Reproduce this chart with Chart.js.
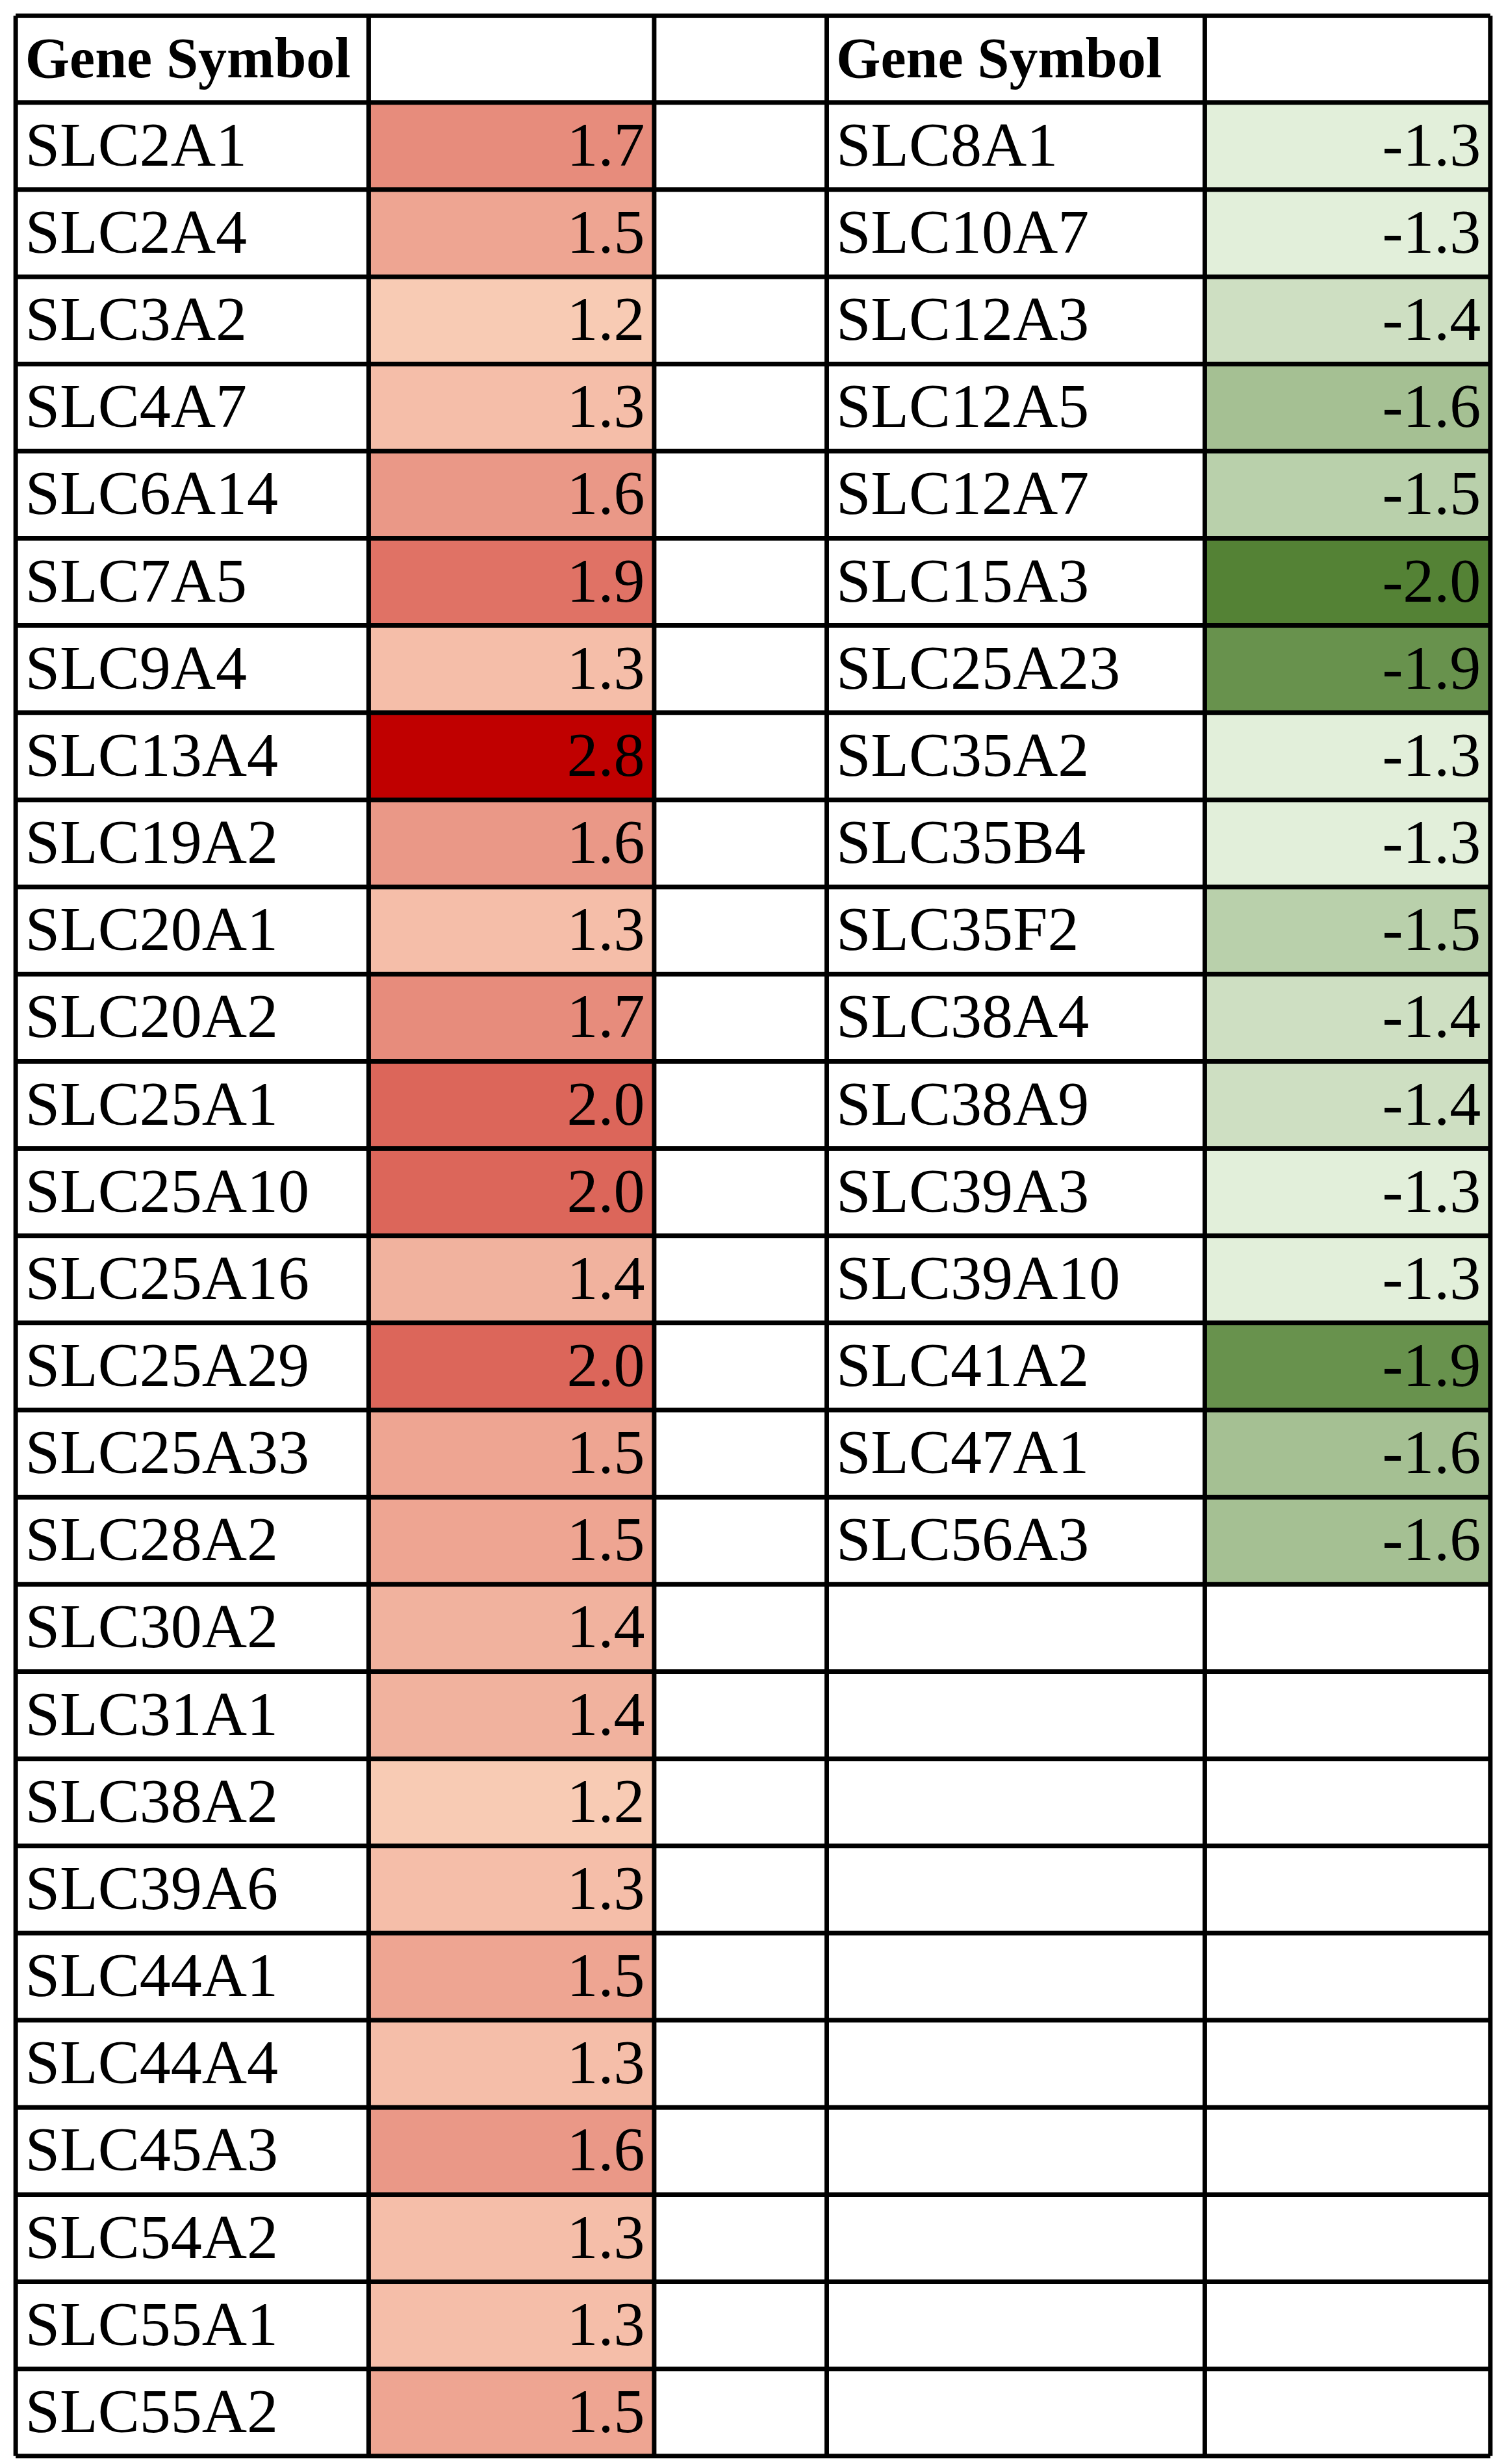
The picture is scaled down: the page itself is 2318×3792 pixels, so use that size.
<!DOCTYPE html>
<html>
<head>
<meta charset="utf-8">
<script src="https://cdn.jsdelivr.net/npm/chart.js@4"></script>
<style>
  html, body { margin: 0; padding: 0; background: #fff; }
  canvas { display: block; }
</style>
</head>
<body>
<canvas id="c" width="2318" height="3792"></canvas>
<script>
// Up-regulated transporters (left table)
const upGenes = ['SLC2A1', 'SLC2A4', 'SLC3A2', 'SLC4A7', 'SLC6A14', 'SLC7A5', 'SLC9A4', 'SLC13A4',
  'SLC19A2', 'SLC20A1', 'SLC20A2', 'SLC25A1', 'SLC25A10', 'SLC25A16', 'SLC25A29', 'SLC25A33',
  'SLC28A2', 'SLC30A2', 'SLC31A1', 'SLC38A2', 'SLC39A6', 'SLC44A1', 'SLC44A4', 'SLC45A3',
  'SLC54A2', 'SLC55A1', 'SLC55A2'];
const upValues = [1.7, 1.5, 1.2, 1.3, 1.6, 1.9, 1.3, 2.8, 1.6, 1.3, 1.7, 2.0, 2.0, 1.4, 2.0, 1.5,
  1.5, 1.4, 1.4, 1.2, 1.3, 1.5, 1.3, 1.6, 1.3, 1.3, 1.5];

// Down-regulated transporters (right table)
const downGenes = ['SLC8A1', 'SLC10A7', 'SLC12A3', 'SLC12A5', 'SLC12A7', 'SLC15A3', 'SLC25A23',
  'SLC35A2', 'SLC35B4', 'SLC35F2', 'SLC38A4', 'SLC38A9', 'SLC39A3', 'SLC39A10', 'SLC41A2',
  'SLC47A1', 'SLC56A3'];
const downValues = [-1.3, -1.3, -1.4, -1.6, -1.5, -2.0, -1.9, -1.3, -1.3, -1.5, -1.4, -1.4, -1.3,
  -1.3, -1.9, -1.6, -1.6];

const headerLabels = ['Gene Symbol', '', '', 'Gene Symbol', ''];

// layout in reference units (960 x 1563 picture)
const W = 960, H = 1563;
const colEdges = [10, 235, 417, 527, 768, 950];
const tableTop = 10, headerBottom = 65, tableBottom = 1558;
const nRows = upGenes.length;
const rowH = (tableBottom - headerBottom) / nRows;

function mix(a, b, t) {
  t = Math.max(0, Math.min(1, t));
  return 'rgb(' + a.map((v, i) => Math.round(v + (b[i] - v) * t)).join(',') + ')';
}
function upColor(v) { return mix([248, 203, 180], [192, 0, 0], (v - 1.2) / 1.6); }
function downColor(v) { return mix([226, 239, 218], [84, 130, 53], (-v - 1.3) / 0.7); }

const tablePlugin = {
  id: 'table',
  afterDraw(chart) {
    const ctx = chart.ctx;
    const xs = chart.scales.x, ys = chart.scales.y;
    const X = v => xs.getPixelForValue(v);
    const Y = v => ys.getPixelForValue(v);
    const rowTop = i => headerBottom + i * rowH;

    ctx.save();
    // coloured cells
    upValues.forEach((v, i) => {
      ctx.fillStyle = upColor(v);
      ctx.fillRect(X(colEdges[1]), Y(rowTop(i)), X(colEdges[2]) - X(colEdges[1]), Y(rowTop(i + 1)) - Y(rowTop(i)));
    });
    downValues.forEach((v, i) => {
      ctx.fillStyle = downColor(v);
      ctx.fillRect(X(colEdges[4]), Y(rowTop(i)), X(colEdges[5]) - X(colEdges[4]), Y(rowTop(i + 1)) - Y(rowTop(i)));
    });

    // grid lines
    ctx.strokeStyle = '#000';
    ctx.lineWidth = 7;
    colEdges.forEach(c => {
      ctx.beginPath(); ctx.moveTo(X(c), Y(tableTop)); ctx.lineTo(X(c), Y(tableBottom)); ctx.stroke();
    });
    for (let i = -1; i <= nRows; i++) {
      const y = i < 0 ? tableTop : rowTop(i);
      ctx.beginPath(); ctx.moveTo(X(colEdges[0]), Y(y)); ctx.lineTo(X(colEdges[5]), Y(y)); ctx.stroke();
    }

    // header
    ctx.fillStyle = '#000';
    ctx.textBaseline = 'middle';
    ctx.font = 'bold 88px "Liberation Serif"';
    headerLabels.forEach((t, i) => {
      if (!t) return;
      ctx.textAlign = 'left';
      ctx.fillText(t, X(colEdges[i] + 6), Y((tableTop + headerBottom) / 2 + 2));
    });

    // body text
    ctx.font = '96px "Liberation Serif"';
    const mid = i => Y(rowTop(i) + rowH / 2 + 2);
    upGenes.forEach((g, i) => {
      ctx.textAlign = 'left';
      ctx.fillText(g, X(colEdges[0] + 6), mid(i));
      ctx.textAlign = 'right';
      ctx.fillText(upValues[i].toFixed(1), X(colEdges[2] - 6), mid(i));
    });
    downGenes.forEach((g, i) => {
      ctx.textAlign = 'left';
      ctx.fillText(g, X(colEdges[3] + 6), mid(i));
      ctx.textAlign = 'right';
      ctx.fillText(downValues[i].toFixed(1), X(colEdges[5] - 6), mid(i));
    });
    ctx.restore();
  }
};

new Chart(document.getElementById('c'), {
  type: 'scatter',
  data: { datasets: [{ data: [] }] },
  options: {
    responsive: false,
    devicePixelRatio: 1,
    animation: false,
    layout: { padding: 0 },
    plugins: { legend: { display: false }, tooltip: { enabled: false } },
    scales: {
      x: { type: 'linear', min: 0, max: W, display: false },
      y: { type: 'linear', min: 0, max: H, reverse: true, display: false }
    }
  },
  plugins: [tablePlugin]
});
</script>
</body>
</html>
